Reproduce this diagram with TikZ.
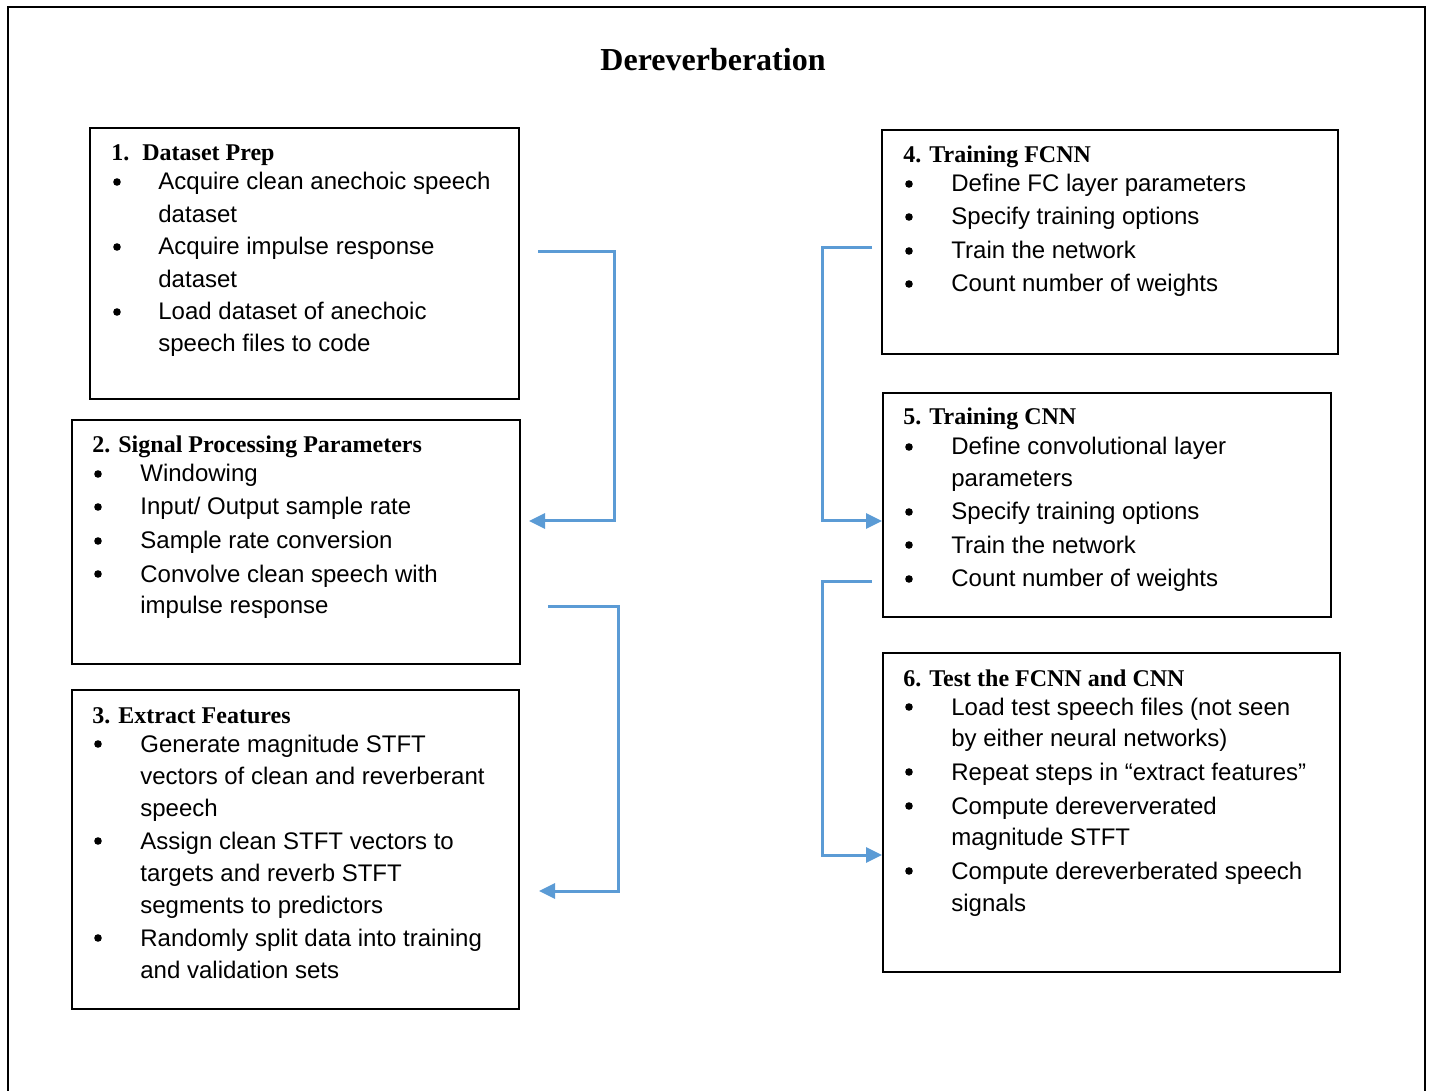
\documentclass[tikz,border=0pt]{standalone}
\usepackage{fontspec}
\setmainfont{Liberation Serif}
\newfontfamily\arialf{Liberation Sans}
\usetikzlibrary{arrows.meta,fit}
\definecolor{cblue}{HTML}{5B9BD5}
\begin{document}
\begin{tikzpicture}[x=0.5pt,y=-0.5pt,
  boxn/.style={draw, line width=1pt, inner sep=0pt},
  txt/.style={font=\arialf\fontsize{12}{14}\selectfont, anchor=base west, inner sep=0pt},
  bul/.style={circle, fill=black, inner sep=0pt, minimum size=3.8pt},
  hd/.style={font=\bfseries\fontsize{12}{14}\selectfont, anchor=base west, inner sep=0pt},
  conn/.style={draw=cblue, line width=1.5pt, -{Triangle[length=8pt,width=7.5pt]}}]
\useasboundingbox (0,0) rectangle (1432,1091);
% outer frame
\draw[line width=1.25pt] (8,1095) -- (8,7) -- (1425,7) -- (1425,1095);
% title
\node[font=\bfseries\fontsize{16}{19}\selectfont, anchor=base, inner sep=0pt] (title) at (713,71) {Dereverberation};
% boxes
\node[boxn, fit={(90,128) (519,399)}] (b1) {};
\node[boxn, fit={(72,420) (520,664)}] (b2) {};
\node[boxn, fit={(72,690) (519,1009)}] (b3) {};
\node[boxn, fit={(882,130) (1338,354)}] (b4) {};
\node[boxn, fit={(883,393) (1331,617)}] (b5) {};
\node[boxn, fit={(883,653) (1340,972)}] (b6) {};
% box 1
\node[hd] (h1n) at (111,161) {1.};
\node[hd] (h1) at (142,161) {Dataset Prep};
\foreach \yy [count=\i] in {190,255,320} \node[bul] (b1b\i) at (117,{\yy-8}) {};
\foreach \yy/\lineT [count=\i] in {190/Acquire clean anechoic speech,222.5/dataset,255/Acquire impulse response,287.5/dataset,320/Load dataset of anechoic,352/speech files to code}
  \node[txt] (b1t\i) at (158,\yy) {\lineT};
% box 2
\node[hd] (h2) at (92,453) {2. Signal Processing Parameters};
\foreach \yy [count=\i] in {482,515,549,582} \node[bul] (b2b\i) at (98,{\yy-8}) {};
\foreach \yy/\lineT [count=\i] in {482/Windowing,515/{Input/ Output sample rate},549/Sample rate conversion,582/Convolve clean speech with,614/impulse response}
  \node[txt] (b2t\i) at (140,\yy) {\lineT};
% box 3
\node[hd] (h3) at (92,723) {3. Extract Features};
\foreach \yy [count=\i] in {752,849,946} \node[bul] (b3b\i) at (98,{\yy-8}) {};
\foreach \yy/\lineT [count=\i] in {752/Generate magnitude STFT,784/vectors of clean and reverberant,816/speech,849/Assign clean STFT vectors to,881/targets and reverb STFT,913/segments to predictors,946/Randomly split data into training,978/and validation sets}
  \node[txt] (b3t\i) at (140,\yy) {\lineT};
% box 4
\node[hd] (h4) at (903,163) {4. Training FCNN};
\foreach \yy [count=\i] in {192,225,259,292} \node[bul] (b4b\i) at (909,{\yy-8}) {};
\foreach \yy/\lineT [count=\i] in {192/Define FC layer parameters,225/Specify training options,259/Train the network,292/Count number of weights}
  \node[txt] (b4t\i) at (951,\yy) {\lineT};
% box 5
\node[hd] (h5) at (903,425) {5. Training CNN};
\foreach \yy [count=\i] in {455,520,553,587} \node[bul] (b5b\i) at (909,{\yy-8}) {};
\foreach \yy/\lineT [count=\i] in {455/Define convolutional layer,487/parameters,520/Specify training options,553/Train the network,587/Count number of weights}
  \node[txt] (b5t\i) at (951,\yy) {\lineT};
% box 6
\node[hd] (h6) at (903,686) {6. Test the FCNN and CNN};
\foreach \yy [count=\i] in {715,780,814,879} \node[bul] (b6b\i) at (909,{\yy-8}) {};
\foreach \yy/\lineT [count=\i] in {715/Load test speech files (not seen,747/by either neural networks),780/Repeat steps in “extract features”,814/Compute dereververated,845/magnitude STFT,879/Compute dereverberated speech,911/signals}
  \node[txt] (b6t\i) at (951,\yy) {\lineT};
% connectors
\coordinate (c1s) at (538,252); \coordinate (c1e) at (529,521);
\coordinate (c2s) at (548,607); \coordinate (c2e) at (539,891);
\coordinate (c3s) at (872,248); \coordinate (c3e) at (b5.west |- 0,521);
\coordinate (c4s) at (872,582); \coordinate (c4e) at (b6.west |- 0,855);
\draw[conn] (c1s) -- ++(76,0) |- (c1e);
\draw[conn] (c2s) -- ++(70,0) |- (c2e);
\draw[conn] (c3s) -- ++(-50,0) |- (c3e);
\draw[conn] (c4s) -- ++(-50,0) |- (c4e);
\end{tikzpicture}
\end{document}
